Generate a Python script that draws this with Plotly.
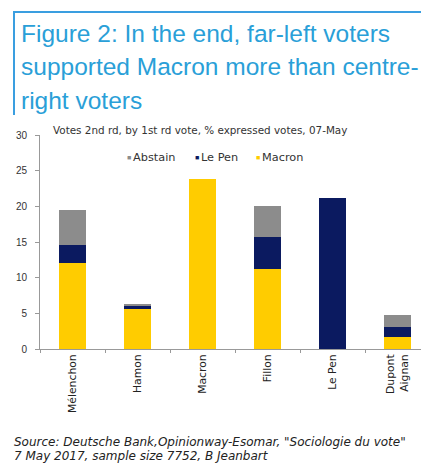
import plotly.graph_objects as go

# Second-round vote (07-May) split by first-round candidate, % of expressed votes
categories = ["Mélenchon", "Hamon", "Macron", "Fillon", "Le Pen", "Dupont<br>Aignan"]
macron = [12.1, 5.6, 23.9, 11.2, 0.0, 1.7]
le_pen = [2.5, 0.4, 0.0, 4.5, 21.2, 1.4]
abstain = [4.9, 0.3, 0.0, 4.3, 0.0, 1.6]
y_ticks = [0, 5, 10, 15, 20, 25, 30]

series_names = ["Abstain", "Le Pen", "Macron"]

W, H = 421, 472
ML, MR, MT, MB = 40, 0, 135, 123
PW, PH = W - ML - MR, H - MT - MB

C_MACRON = "#FFCC00"
C_LEPEN = "#0B1A60"
C_ABST = "#8C8C8C"
C_TITLE = "#2A9FD8"
FONT = "Arial, Liberation Sans, sans-serif"
SMALL = "DejaVu Sans, sans-serif"


def fx(px):
    """page pixel x -> paper x"""
    return (px - ML) / PW


def fy(py):
    """page pixel y -> paper y"""
    return (H - MB - py) / PH


fig = go.Figure()
fig.add_trace(go.Bar(x=categories, y=macron, name="Macron", marker_color=C_MACRON,
                     marker_line_width=0))
fig.add_trace(go.Bar(x=categories, y=le_pen, name="Le Pen", marker_color=C_LEPEN,
                     marker_line_width=0))
fig.add_trace(go.Bar(x=categories, y=abstain, name="Abstain", marker_color=C_ABST,
                     marker_line_width=0))

annotations = []

# Title block
title_lines = ["Figure 2: In the end, far-left voters",
               "supported Macron more than centre-",
               "right voters"]
for line, py in zip(title_lines, [33, 67, 100]):
    annotations.append(dict(text=line, x=fx(19), y=fy(py), xref="paper", yref="paper",
                            xanchor="left", yanchor="middle", showarrow=False,
                            font=dict(family=FONT, size=24.5, color=C_TITLE)))

# Subtitle above the plot
annotations.append(dict(text="Votes 2nd rd, by 1st rd vote, % expressed votes, 07-May",
                        x=fx(51), y=fy(130), xref="paper", yref="paper",
                        xanchor="left", yanchor="middle", showarrow=False,
                        font=dict(family=SMALL, size=10.4, color="#333333")))

# Legend entries
legend_items = [(series_names[0], C_ABST, 125), (series_names[1], C_LEPEN, 193),
                (series_names[2], C_MACRON, 254)]
for name, col, px in legend_items:
    annotations.append(dict(text="■", x=fx(px), y=fy(157), xref="paper", yref="paper",
                            xanchor="left", yanchor="middle", showarrow=False,
                            font=dict(family=FONT, size=7, color=col)))
    annotations.append(dict(text=name, x=fx(px + 6), y=fy(157), xref="paper", yref="paper",
                            xanchor="left", yanchor="middle", showarrow=False,
                            font=dict(family=SMALL, size=11.3, color="#333333")))

# Source note
source_lines = ['Source: Deutsche Bank,Opinionway-Esomar, "Sociologie du vote"',
                "7 May 2017, sample size 7752, B Jeanbart"]
for line, py in zip(source_lines, [442, 456]):
    annotations.append(dict(text=f"<i>{line}</i>", x=fx(12), y=fy(py),
                            xref="paper", yref="paper", xanchor="left", yanchor="middle",
                            showarrow=False,
                            font=dict(family=SMALL, size=12, color="#222222")))

shapes = [
    # title frame: top rule and left rule
    dict(type="line", xref="paper", yref="paper", x0=fx(14), x1=fx(W + 5),
         y0=fy(12), y1=fy(12), line=dict(color="#3A9EE0", width=2)),
    dict(type="line", xref="paper", yref="paper", x0=fx(14), x1=fx(14),
         y0=fy(11), y1=fy(115), line=dict(color="#3A9EE0", width=2)),
]

fig.update_layout(
    width=W, height=H,
    margin=dict(l=ML, r=MR, t=MT, b=MB, pad=0),
    paper_bgcolor="white", plot_bgcolor="white",
    barmode="stack", bargap=0.57,
    showlegend=False,
    font=dict(family=FONT, color="#333333"),
    annotations=annotations,
    shapes=shapes,
)

fig.update_xaxes(
    range=[-0.5, -0.5 + PW / 65.0],
    showline=True, linecolor="#999999", linewidth=1,
    ticks="outside", tickson="boundaries", ticklen=3, tickcolor="#999999",
    tickangle=-90, tickfont=dict(family=SMALL, size=10.8, color="#222222"),
    showgrid=False, zeroline=False, fixedrange=True,
)
fig.update_yaxes(
    range=[0, 30], tickvals=y_ticks,
    showline=True, linecolor="#999999", linewidth=1,
    ticks="outside", ticklen=4, tickcolor="#999999",
    ticklabelstandoff=6,
    tickfont=dict(family=FONT, size=10, color="#333333"),
    showgrid=False, zeroline=False, fixedrange=True,
)

fig.write_html("out.html", config=dict(displayModeBar=False))
